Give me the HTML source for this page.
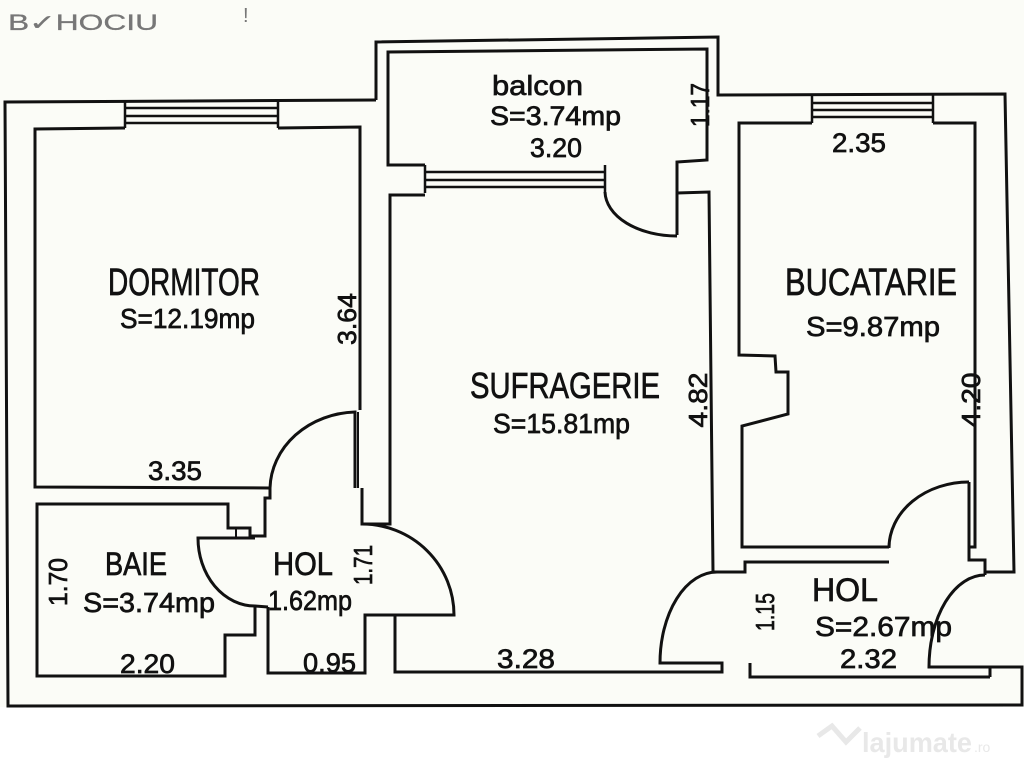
<!DOCTYPE html>
<html><head><meta charset="utf-8"><style>
html,body{margin:0;padding:0;background:#fff;}
svg{display:block;}
text{font-family:"Liberation Sans Narrow","Liberation Sans",sans-serif;fill:#111;stroke:#111;stroke-width:0.7;}
</style></head><body>
<svg width="1024" height="768" viewBox="0 0 1024 768" xmlns="http://www.w3.org/2000/svg">
<rect width="1024" height="768" fill="#fbfcf7"/>
<rect x="0" y="707" width="1024" height="61" fill="#fff"/>
<g fill="none" stroke="#111" stroke-width="3" stroke-linejoin="miter">
<path d="M376,100 L5,102 L8,706 L1022,705 L1022,667 L990,667 L990,677"/>
<path d="M376,100 L376,42 L718,37 L718,95 L1005,94 L1014,572 L985,572"/>
<path d="M270,488 L35,487 L35,129 L125,128"/>
<path d="M278,128 L360,127 L360,410"/>
<path d="M362,488 L362,524 L390,524 L390,195 L425,195"/>
<path d="M125,100 L125,128 M278,100 L278,128" stroke-width="2.5"/>
<path d="M125,108 L278,108 M125,116 L278,116 M125,123 L278,123" stroke-width="2.5"/>
<path d="M425,165 L388,165 L388,52 L707,49 L707,160 L677,162 L677,235"/>
<path d="M425,165 L425,193 M605,165 L605,193" stroke-width="2.5"/>
<path d="M425,172 L605,172 M425,180 L605,180 M425,187 L605,187" stroke-width="2.5"/>
<path d="M605,192 A72,45 0 0 0 677,236"/>
<path d="M677,193 L709,192 L713,572 L745,572 L745,562 L889,562"/>
<path d="M812,123 L739,123 L739,355 L775,356 L776,372 L788,372 L788,414 L742,426 L742,547 L889,547"/>
<path d="M933,123 L975,123 L975,547 L969,547 L969,482"/>
<path d="M812,95 L812,123 M933,95 L933,123" stroke-width="2.5"/>
<path d="M812,103 L933,103 M812,110 L933,110 M812,117 L933,117" stroke-width="2.5"/>
<path d="M889,548 A80,66 0 0 1 969,482"/>
<path d="M969,547 L969,560 L985,560 L985,575"/>
<path d="M717,572 A57,91 0 0 0 660,663 L722,663 L722,672 L395,672 L395,615"/>
<path d="M750,663 L750,677 L990,677"/>
<path d="M985,575 A56,92 0 0 0 929,667 L990,667"/>
<path d="M362,524 A92,91 0 0 1 454,615 L365,615 L365,673 L268,673 L268,607"/>
<path d="M270,488 A88,78 0 0 1 355,412 L355,488"/>
<path d="M358,412 L358,488" stroke-width="2"/>
<path d="M270,488 L270,498 L265,498 L265,536 L250,536 L250,528 L228,528 L228,504 L37,504 L37,676 L225,676 L225,635 L255,635 L255,606"/>
<path d="M255,538 L198,538 A57,68 0 0 0 255,606 L268,607"/>
<path d="M228,528 L250,528 M236,528 L236,538" stroke-width="2"/>
</g>
<text x="8" y="30" font-size="22" style="fill:#777;stroke:#777;stroke-width:0.3" textLength="150" lengthAdjust="spacingAndGlyphs">B✓HOCIU</text>
<text x="243" y="22" font-size="20" style="fill:#777;stroke:none">!</text>
<text x="492" y="95" font-size="28" textLength="91" lengthAdjust="spacingAndGlyphs">balcon</text>
<text x="490" y="125" font-size="27" textLength="131" lengthAdjust="spacingAndGlyphs">S=3.74mp</text>
<text x="530" y="157" font-size="27" textLength="52" lengthAdjust="spacingAndGlyphs">3.20</text>
<text transform="translate(709,105) rotate(-90)" text-anchor="middle" font-size="26" textLength="44" lengthAdjust="spacingAndGlyphs">1.17</text>
<text x="832" y="152" font-size="27" textLength="54" lengthAdjust="spacingAndGlyphs">2.35</text>
<text x="108" y="295" font-size="38" textLength="152" lengthAdjust="spacingAndGlyphs">DORMITOR</text>
<text x="120" y="328" font-size="28" textLength="135" lengthAdjust="spacingAndGlyphs">S=12.19mp</text>
<text transform="translate(356,319) rotate(-90)" text-anchor="middle" font-size="26" textLength="52" lengthAdjust="spacingAndGlyphs">3.64</text>
<text x="785" y="295" font-size="38" textLength="172" lengthAdjust="spacingAndGlyphs">BUCATARIE</text>
<text x="806" y="336" font-size="28" textLength="134" lengthAdjust="spacingAndGlyphs">S=9.87mp</text>
<text x="470" y="398" font-size="36" textLength="190" lengthAdjust="spacingAndGlyphs">SUFRAGERIE</text>
<text x="493" y="433" font-size="28" textLength="137" lengthAdjust="spacingAndGlyphs">S=15.81mp</text>
<text transform="translate(707,400) rotate(-90)" text-anchor="middle" font-size="26" textLength="55" lengthAdjust="spacingAndGlyphs">4.82</text>
<text transform="translate(980,400) rotate(-90)" text-anchor="middle" font-size="26" textLength="55" lengthAdjust="spacingAndGlyphs">4.20</text>
<text x="148" y="480" font-size="27" textLength="54" lengthAdjust="spacingAndGlyphs">3.35</text>
<text x="105" y="575" font-size="32" textLength="62" lengthAdjust="spacingAndGlyphs">BAIE</text>
<text x="83" y="612" font-size="28" textLength="132" lengthAdjust="spacingAndGlyphs">S=3.74mp</text>
<text transform="translate(67,582) rotate(-90)" text-anchor="middle" font-size="26" textLength="48" lengthAdjust="spacingAndGlyphs">1.70</text>
<text x="120" y="673" font-size="27" textLength="55" lengthAdjust="spacingAndGlyphs">2.20</text>
<text x="273" y="575" font-size="32" textLength="60" lengthAdjust="spacingAndGlyphs">HOL</text>
<text x="268" y="610" font-size="28" textLength="84" lengthAdjust="spacingAndGlyphs">1.62mp</text>
<text transform="translate(372,565) rotate(-90)" text-anchor="middle" font-size="26" textLength="40" lengthAdjust="spacingAndGlyphs">1.71</text>
<text x="303" y="672" font-size="27" textLength="53" lengthAdjust="spacingAndGlyphs">0.95</text>
<text x="497" y="668" font-size="27" textLength="58" lengthAdjust="spacingAndGlyphs">3.28</text>
<text x="812" y="601" font-size="32" textLength="66" lengthAdjust="spacingAndGlyphs">HOL</text>
<text x="815" y="636" font-size="28" textLength="137" lengthAdjust="spacingAndGlyphs">S=2.67mp</text>
<text transform="translate(774,612) rotate(-90)" text-anchor="middle" font-size="26" textLength="38" lengthAdjust="spacingAndGlyphs">1.15</text>
<text x="840" y="668" font-size="27" textLength="57" lengthAdjust="spacingAndGlyphs">2.32</text>
<text x="862" y="752" font-size="28" style="fill:#e8e8e8;stroke:none" font-weight="bold" textLength="110" lengthAdjust="spacingAndGlyphs">lajumate</text>
<text x="974" y="752" font-size="14" style="fill:#e8e8e8;stroke:none">.ro</text>
<path d="M818,736 L832,726 L846,742 L860,728" fill="none" stroke="#e8e8e8" stroke-width="5"/>
</svg>
</body></html>
